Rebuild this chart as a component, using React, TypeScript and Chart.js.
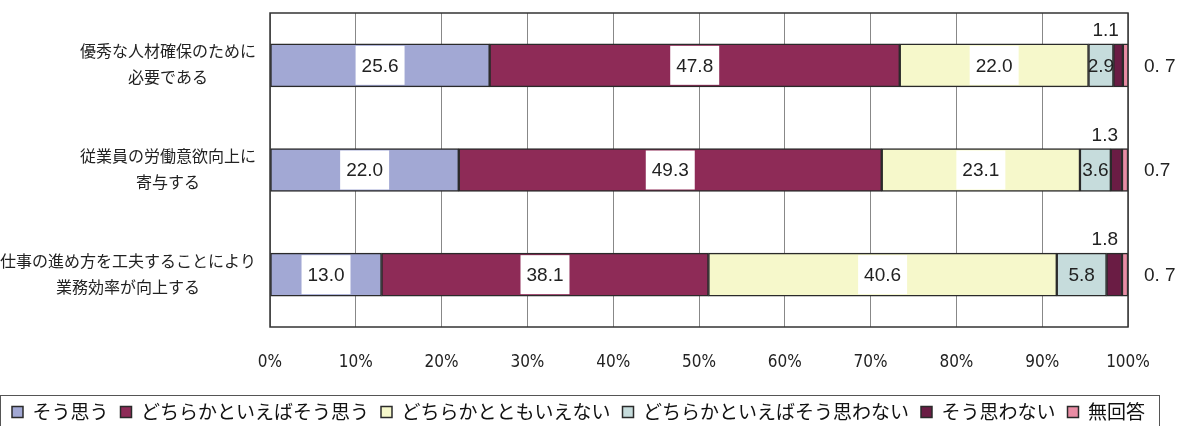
import React, { useEffect, useRef } from "react";
import { Chart, registerables } from "chart.js";

Chart.register(...registerables);

// ---- data ----
const categories: string[][] = [
  ["優秀な人材確保のために", "必要である"],
  ["従業員の労働意欲向上に", "寄与する"],
  ["仕事の進め方を工夫することにより", "業務効率が向上する"],
];
const seriesNames = [
  "そう思う",
  "どちらかといえばそう思う",
  "どちらかとともいえない",
  "どちらかといえばそう思わない",
  "そう思わない",
  "無回答",
];
const soOmou = [25.6, 22.0, 13.0];
const dochirakaSoOmou = [47.8, 49.3, 38.1];
const tomoIenai = [22.0, 23.1, 40.6];
const dochirakaOmowanai = [2.9, 3.6, 5.8];
const soOmowanai = [1.1, 1.3, 1.8];
const mukaito = [0.7, 0.7, 0.7];
const mukaitoLabels = ["0. 7", "0.7", "0. 7"];
const seriesValues = [soOmou, dochirakaSoOmou, tomoIenai, dochirakaOmowanai, soOmowanai, mukaito];
const seriesColors = ["#a2a8d4", "#8e2b57", "#f6f8cb", "#c6dcdc", "#6a1c44", "#e98ca4"];

const NUM_FONT = '"Liberation Sans", Arial, sans-serif';
const JP_FONT = '"Noto Sans CJK JP", sans-serif';

const labelPlugin = {
  id: "valueLabels",
  afterDatasetsDraw(chart: any) {
    const ctx = chart.ctx;
    const area = chart.chartArea;
    ctx.save();
    ctx.font = `19px ${NUM_FONT}`;
    ctx.textBaseline = "middle";
    chart.data.datasets.forEach((ds: any, di: number) => {
      const meta = chart.getDatasetMeta(di);
      meta.data.forEach((bar: any, i: number) => {
        const { x, y, base, height } = bar.getProps(["x", "y", "base", "height"], true);
        const v = ds.data[i] as number;
        if (di <= 3) {
          const text = v.toFixed(1);
          const cx = (x + base) / 2;
          if (di <= 2) {
            const w = ctx.measureText(text).width + 12;
            ctx.fillStyle = "#ffffff";
            ctx.fillRect(cx - w / 2, y - height / 2 + 2, w, height - 4);
          }
          ctx.fillStyle = "#222";
          ctx.textAlign = "center";
          ctx.fillText(text, cx, y + 1);
        } else if (di === 4) {
          ctx.fillStyle = "#222";
          ctx.textAlign = "right";
          ctx.fillText(v.toFixed(1), x - 4, y - height / 2 - 13);
        } else {
          ctx.fillStyle = "#222";
          ctx.textAlign = "left";
          ctx.fillText(mukaitoLabels[i], area.right + 16, y + 1);
        }
      });
    });
    ctx.restore();
  },
  afterDraw(chart: any) {
    const ctx = chart.ctx;
    const area = chart.chartArea;
    const yScale = chart.scales.y;
    ctx.save();
    // plot frame
    ctx.strokeStyle = "#333";
    ctx.lineWidth = 1.5;
    ctx.strokeRect(area.left, area.top, area.right - area.left, area.bottom - area.top);
    // category labels: block right-aligned, lines centred
    ctx.font = `16px ${JP_FONT}`;
    ctx.fillStyle = "#222";
    ctx.textAlign = "center";
    ctx.textBaseline = "middle";
    categories.forEach((lines, i) => {
      const cy = yScale.getPixelForValue(i);
      const widest = Math.max(...lines.map((l) => ctx.measureText(l).width));
      const cx = area.left - 14 - widest / 2;
      lines.forEach((l, j) => {
        ctx.fillText(l, cx, cy + (j - (lines.length - 1) / 2) * 26 - 1);
      });
    });
    // legend frame
    const boxes = chart.legend?.legendHitBoxes || [];
    if (boxes.length) {
      const left = Math.max(0, Math.min(...boxes.map((b: any) => b.left)) - 12);
      const right = Math.min(1187, Math.max(...boxes.map((b: any) => b.left + b.width)) + 14);
      ctx.strokeStyle = "#555";
      ctx.lineWidth = 1;
      ctx.strokeRect(left + 0.5, 395.5, right - left, 40);
    }
    ctx.restore();
  },
};

export default function App() {
  const ref = useRef<HTMLCanvasElement | null>(null);
  useEffect(() => {
    if (!ref.current) return;
    const chart = new Chart(ref.current, {
      type: "bar",
      data: {
        labels: categories as any,
        datasets: seriesNames.map((name, k) => ({
          label: name,
          data: seriesValues[k],
          backgroundColor: seriesColors[k],
          borderColor: "#2a2a2a",
          borderWidth: 1.5,
          borderSkipped: false,
          barThickness: 43,
        })),
      },
      options: {
        indexAxis: "y",
        responsive: false,
        animation: false,
        layout: { padding: { top: 13, bottom: -5.5, left: 0, right: 0 } },
        plugins: {
          legend: {
            position: "bottom",
            align: "start",
            labels: {
              font: { size: 19, family: JP_FONT },
              color: "#111",
              boxWidth: 11,
              boxHeight: 11,
              padding: 12,
            },
          },
          tooltip: { enabled: false },
        },
        scales: {
          x: {
            type: "linear",
            stacked: true,
            min: 0,
            max: 100,
            grid: { color: "#888", lineWidth: 1, drawTicks: false },
            border: { display: false },
            ticks: {
              stepSize: 10,
              padding: 25,
              color: "#222",
              font: { size: 17, family: '"DejaVu Sans Condensed", "Liberation Sans Narrow", "Liberation Sans", sans-serif' },
              callback: (v: any) => `${v}%`,
            },
            afterFit: (s: any) => {
              s.height = 63.5;
            },
          },
          y: {
            type: "category",
            stacked: true,
            grid: { display: false },
            border: { display: false },
            ticks: { display: false },
            afterFit: (s: any) => {
              s.width = 270;
            },
          },
          yRight: {
            type: "linear",
            position: "right",
            display: true,
            grid: { display: false },
            border: { display: false },
            ticks: { display: false },
            afterFit: (s: any) => {
              s.width = 60;
            },
          },
        },
      } as any,
      plugins: [labelPlugin],
    });
    return () => chart.destroy();
  }, []);
  return (
    <div style={{ position: "fixed", left: 0, top: 0, width: 1188, height: 426, background: "#fff" }}>
      <canvas ref={ref} width={1188} height={426} />
    </div>
  );
}
